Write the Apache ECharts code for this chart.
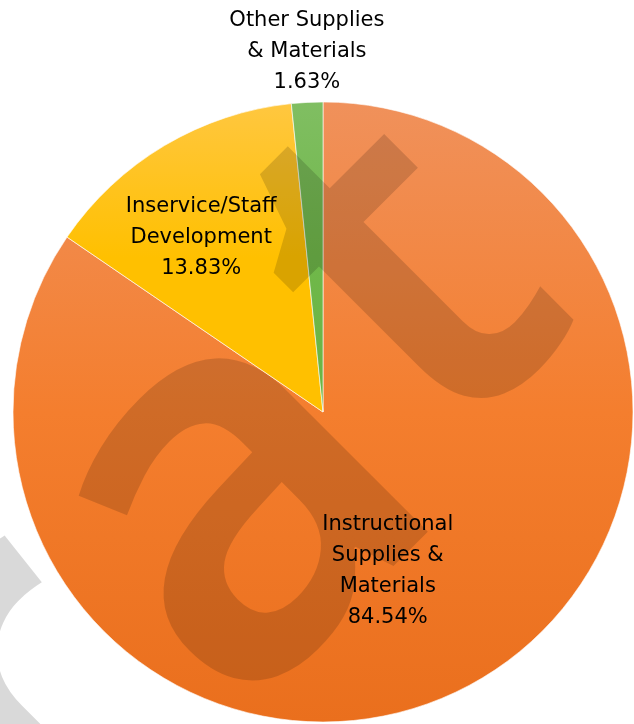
<!DOCTYPE html>
<html>
<head>
<meta charset="utf-8">
<script src="https://cdn.jsdelivr.net/npm/echarts@6/dist/echarts.min.js"></script>
<style>
  html, body { margin: 0; padding: 0; background: #fff; }
  #chart { width: 634px; height: 724px; }
</style>
</head>
<body>
<div id="chart"></div>
<script>
var names = ['Instructional\nSupplies &\nMaterials', 'Inservice/Staff\nDevelopment', 'Other Supplies\n& Materials'];
var values = [84.54, 13.83, 1.63];
var gradients = [
  ['#F0915B', '#F47E2E', '#EA6F1D'],
  ['#FFC740', '#FFC000', '#FFC000'],
  ['#80BE62', '#70B84A', '#6AB443']
];
// label nudges away from the default inside spot
var labelShift = [[-9, 19], [-41, -39], [-8, -203]];

var myChart = echarts.init(document.getElementById('chart'));

var data = values.map(function (v, i) {
  return {
    name: names[i],
    value: v,
    itemStyle: {
      color: new echarts.graphic.LinearGradient(0, 0, 0, 1, [
        { offset: 0, color: gradients[i][0] },
        { offset: 0.5, color: gradients[i][1] },
        { offset: 1, color: gradients[i][2] }
      ])
    }
  };
});

// watermark letters, rotated 45deg
function mark(ch, x, y, size) {
  return {
    type: 'text',
    z: 100,
    x: x,
    y: y,
    rotation: Math.PI / 4,
    silent: true,
    style: {
      text: ch,
      fontFamily: 'Noto Sans',
      fontWeight: 600,
      fontSize: size,
      fill: 'rgba(0,0,0,0.15)',
      textAlign: 'center',
      textVerticalAlign: 'middle'
    }
  };
}

option = {
  animation: false,
  backgroundColor: '#fff',
  series: [
    {
      type: 'pie',
      center: [323, 412],
      radius: 310,
      startAngle: 90,
      clockwise: true,
      data: data,
      itemStyle: { borderColor: 'rgba(255,255,255,0.6)', borderWidth: 1 },
      label: {
        position: 'inside',
        color: '#000',
        fontFamily: 'DejaVu Sans',
        fontSize: 21,
        lineHeight: 31,
        align: 'center',
        formatter: function (p) {
          return p.name + '\n' + p.value.toFixed(2) + '%';
        }
      },
      labelLine: { show: false },
      labelLayout: function (p) {
        return { dx: labelShift[p.dataIndex][0], dy: labelShift[p.dataIndex][1] };
      },
      emphasis: { disabled: true }
    }
  ],
  graphic: [
    mark('r', 25, 700, 500),
    mark('a', 236, 506, 540),
    mark('t', 415, 285, 500)
  ]
};

option && myChart.setOption(option);
</script>
</body>
</html>
